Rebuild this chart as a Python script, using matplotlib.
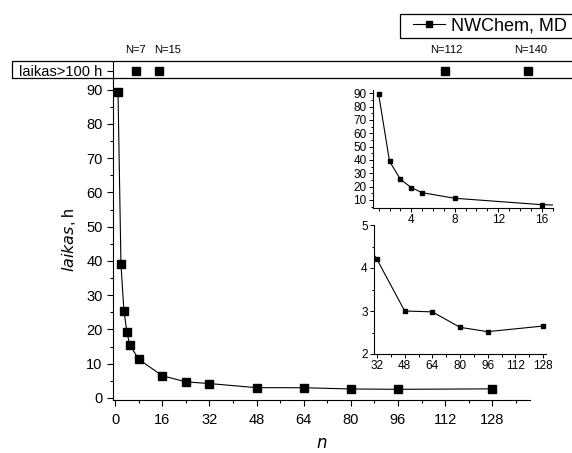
import matplotlib.pyplot as plt
from matplotlib.patches import Rectangle
from matplotlib.ticker import MultipleLocator

plt.rcParams['font.family'] = ['Liberation Sans', 'DejaVu Sans']

# data: number of processors vs wall time (hours)
n_proc = [1, 2, 3, 4, 5, 8, 16, 24, 32, 48, 64, 80, 96, 128]
hours = [89.3, 39.0, 25.5, 19.3, 15.5, 11.3, 6.5, 4.7, 4.2, 3.0, 2.98, 2.62, 2.52, 2.65]

# runs that took longer than 100 h (shown in the top strip)
over_n = [7, 15, 112, 140]
over_labels = ["N=7", "N=15", "N=112", "N=140"]
# small horizontal nudges (points) so neighbouring labels don't collide
label_dx = [0, 6, 1, 2]

W, H = 572, 453


def fig_rect(x0, y0, x1, y1):
    # pixel box (top-left origin) -> figure fraction rect
    return [x0 / W, 1 - y1 / H, (x1 - x0) / W, (y1 - y0) / H]


fig = plt.figure(figsize=(W / 100, H / 100), dpi=100)

# ── main axes ──
ax = fig.add_axes(fig_rect(113, 79, 530, 400))
line, = ax.plot(n_proc, hours, color="black", lw=0.8, marker="s", ms=5.2,
                mfc="black", mec="black", label="NWChem, MD")
ax.set_xlim(-0.7, 140.8)
ax.set_ylim(-0.6, 93.1)
ax.xaxis.set_minor_locator(MultipleLocator(8))
ax.yaxis.set_minor_locator(MultipleLocator(5))
ax.set_xticks(range(0, 129, 16))
ax.set_yticks(range(0, 91, 10))
ax.spines["top"].set_visible(False)
ax.spines["right"].set_visible(False)
ax.tick_params(which="major", direction="out", length=4, width=0.8, labelsize=10.5)
ax.tick_params(axis="x", which="major", pad=5)
ax.tick_params(which="minor", direction="out", length=2.5, width=0.8)
ax.set_ylabel(r"$\it{laikas}$, h", fontsize=11.5, labelpad=6)
ax.set_xlabel(r"$\it{n}$", fontsize=12, labelpad=7)

# ── strip for runs > 100 h ──
strip = fig.add_axes(fig_rect(113, 62, 530, 79))
strip.set_xlim(ax.get_xlim())
strip.set_ylim(0, 1)
strip.plot(over_n, [0.5] * len(over_n), ls="none", marker="s", ms=5.2,
           color="black", clip_on=False)
for xv, lab, dx in zip(over_n, over_labels, label_dx):
    strip.annotate(lab, (xv, 1), xytext=(dx, 5), textcoords="offset points",
                   ha="center", va="bottom", fontsize=8)
strip.set_xticks([])
strip.set_yticks([0.5])
strip.set_yticklabels(["laikas>100 h"])
strip.tick_params(axis="y", direction="out", length=4, width=0.8, labelsize=10.5)
for s in ["top", "right", "bottom"]:
    strip.spines[s].set_visible(False)
strip.patch.set_alpha(0)
fig.patches.append(Rectangle((12 / W, 1 - 78 / H), (600 - 12) / W, 17 / H,
                             transform=fig.transFigure, fill=False,
                             edgecolor="black", lw=0.9))

# ── inset: first points ──
in1 = fig.add_axes(fig_rect(373, 90, 553, 208))
in1.plot(n_proc, hours, color="black", lw=0.8, marker="s", ms=2.4)
in1.set_xlim(0.48, 17.04)
in1.set_ylim(4.0, 92.5)
in1.set_xticks([4, 8, 12, 16])
in1.xaxis.set_minor_locator(MultipleLocator(1))
in1.yaxis.set_minor_locator(MultipleLocator(5))
in1.set_yticks(range(10, 91, 10))

# ── inset: tail ──
in2 = fig.add_axes(fig_rect(374, 225, 546, 354))
in2.plot(n_proc, hours, color="black", lw=0.8, marker="s", ms=2.4)
in2.set_xlim(30.26, 129.7)
in2.set_ylim(2, 5)
in2.set_xticks(range(32, 129, 16))
in2.xaxis.set_minor_locator(MultipleLocator(8))
in2.set_yticks([2, 3, 4, 5])
in2.yaxis.set_minor_locator(MultipleLocator(0.5))

for a in (in1, in2):
    a.spines["top"].set_visible(False)
    a.spines["right"].set_visible(False)
    a.tick_params(which="major", direction="out", length=3, width=0.7, labelsize=8.5, pad=1.5)
    a.tick_params(which="minor", direction="out", length=1.8, width=0.7)

# ── legend (frame drawn by hand, it runs off the right edge) ──
fig.legend(handles=[line], loc="upper left", bbox_to_anchor=(409 / W, 1 - 13.5 / H),
           fontsize=13, frameon=False, borderpad=0.2, handlelength=1.8,
           handletextpad=0.3, borderaxespad=0, markerscale=0.75)
fig.patches.append(Rectangle((400 / W, 1 - 38 / H), 200 / W, 24 / H,
                             transform=fig.transFigure, fill=False,
                             edgecolor="black", lw=0.9))

fig.savefig("out.png", dpi=100)
